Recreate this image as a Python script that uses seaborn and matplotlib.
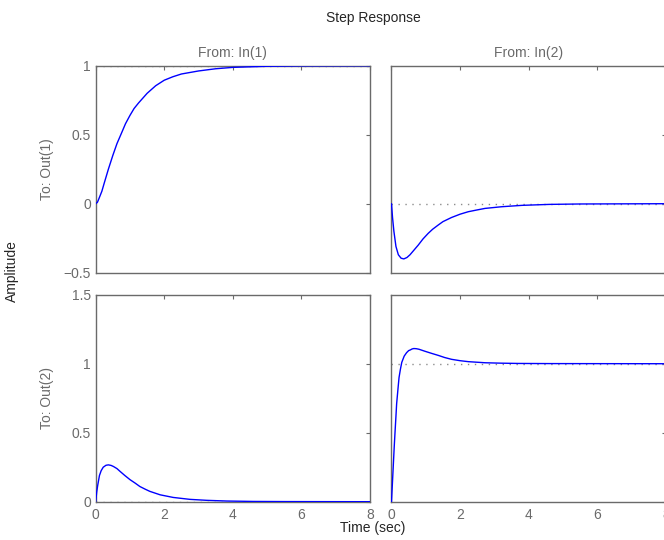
import matplotlib
matplotlib.use("Agg")
import matplotlib.pyplot as plt
import pandas as pd
import seaborn as sns


###############
# STEP VALUES #
###############
# samples, time in seconds
t_in1_out1 = [0, 0.05, 0.1, 0.18, 0.25, 0.37, 0.5, 0.62, 0.75, 0.87, 1.0, 1.12, 1.25, 1.5, 1.75, 2.0, 2.25,
              2.5, 3.0, 3.5, 4.0, 5.0, 6.0, 8]
y_in1_out1 = [0, 0.01, 0.04, 0.09, 0.15, 0.25, 0.35, 0.435, 0.51, 0.58, 0.64, 0.69, 0.73, 0.80, 0.855, 0.895,
              0.92, 0.94, 0.962, 0.978, 0.988, 0.996, 0.999, 1.0]

t_in2_out1 = [0, 0.03, 0.07, 0.13, 0.2, 0.28, 0.36, 0.45, 0.54, 0.66, 0.78, 0.92, 1.07, 1.2, 1.36, 1.5, 1.75,
              2.0, 2.24, 2.5, 2.73, 3.21, 3.8, 4.6, 5.5, 8]
y_in2_out1 = [0, -0.10, -0.20, -0.31, -0.37, -0.395, -0.40, -0.39, -0.37, -0.335, -0.30, -0.255, -0.215, -0.185,
              -0.155, -0.13, -0.10, -0.076, -0.058, -0.045, -0.034, -0.022, -0.012, -0.005, -0.002, 0]

t_in1_out2 = [0, 0.03, 0.06, 0.11, 0.16, 0.22, 0.30, 0.37, 0.45, 0.52, 0.62, 0.71, 0.85, 1.0, 1.15, 1.29, 1.45,
              1.58, 1.88, 2.26, 2.75, 3.24, 3.82, 4.6, 5.5, 8]
y_in1_out2 = [0, 0.07, 0.12, 0.19, 0.225, 0.25, 0.264, 0.267, 0.263, 0.255, 0.24, 0.22, 0.19, 0.16, 0.135, 0.11,
              0.09, 0.075, 0.05, 0.031, 0.017, 0.01, 0.005, 0.002, 0.001, 0]

t_in2_out2 = [0, 0.03, 0.05, 0.08, 0.10, 0.13, 0.15, 0.19, 0.22, 0.26, 0.30, 0.37, 0.44, 0.50, 0.55, 0.60, 0.65,
              0.72, 0.80, 0.98, 1.17, 1.37, 1.55, 1.75, 2.0, 2.24, 2.73, 3.2, 3.7, 4.6, 8]
y_in2_out2 = [0, 0.15, 0.25, 0.40, 0.49, 0.62, 0.71, 0.82, 0.90, 0.96, 1.01, 1.055, 1.08, 1.095, 1.10, 1.107, 1.11,
              1.109, 1.105, 1.09, 1.075, 1.06, 1.045, 1.032, 1.022, 1.015, 1.007, 1.004, 1.002, 1.001, 1.0]

# final values (dotted lines)
steady_state = {(0, 0): 1, (0, 1): 0, (1, 0): 0, (1, 1): 1}

inputs = ["From: In(1)", "From: In(2)"]
outputs = ["To: Out(1)", "To: Out(2)"]
x_ticks = [0, 2, 4, 6, 8]
y_ticks_row = [[-0.5, 0, 0.5, 1], [0, 0.5, 1, 1.5]]
y_limits_row = [(-0.5, 1), (0, 1.5)]

GRAY = "#6a6a6a"
FONT = 10


def _frame(t, y):
    return pd.DataFrame({"time": t, "amplitude": y})


curves = {
    (0, 0): _frame(t_in1_out1, y_in1_out1),
    (0, 1): _frame(t_in2_out1, y_in2_out1),
    (1, 0): _frame(t_in1_out2, y_in1_out2),
    (1, 1): _frame(t_in2_out2, y_in2_out2),
}

sns.set_style("white")
plt.rcParams["font.family"] = ["Liberation Sans", "DejaVu Sans"]

fig = plt.figure(figsize=(6.64, 5.4), dpi=100)
col_x = [0.1441, 0.5896]
row_y = [0.4950, 0.0709]
width, height = 0.4131, 0.3833

for (row, col), data in curves.items():
    ax = fig.add_axes([col_x[col], row_y[row], width, height])
    ax.axhline(steady_state[(row, col)], color="#8c8c8c", lw=1.0, ls=(0, (1, 4)), zorder=1)
    sns.lineplot(data=data, x="time", y="amplitude", ax=ax, color="#0000ff", lw=1.0, zorder=3)

    ax.set_xlim(0, 8)
    ax.set_ylim(*y_limits_row[row])
    ax.set_xticks(x_ticks)
    ax.set_yticks(y_ticks_row[row])
    ax.set_xlabel("")
    ax.set_ylabel("")
    ax.set_yticklabels([f"{v:g}".replace("-", "\u2212") for v in y_ticks_row[row]])
    ax.tick_params(direction="in", top=True, right=True, length=3, width=0.8,
                   color=GRAY, labelcolor=GRAY, labelsize=FONT)
    ax.tick_params(axis="x", pad=4.5)
    ax.tick_params(axis="y", pad=3.5)
    for spine in ax.spines.values():
        spine.set_color(GRAY)
        spine.set_linewidth(1.0)
    if row == 0:
        ax.tick_params(labelbottom=False)
        ax.set_title(inputs[col], color=GRAY, fontsize=FONT, pad=6)
    if col == 1:
        ax.tick_params(labelleft=False)

for row, label in enumerate(outputs):
    fig.text(47 / 664, 1 - (169 if row == 0 else 398) / 540, label, rotation=90,
             ha="center", va="center", color=GRAY, fontsize=FONT)

fig.text(373 / 664, 1 - 18 / 540, "Step Response", ha="center", va="center", fontsize=FONT)
fig.text(373 / 664, 1 - 528 / 540, "Time (sec)", ha="center", va="center", fontsize=FONT)
fig.text(12 / 664, 1 - 271 / 540, "Amplitude", rotation=90, ha="center", va="center", fontsize=FONT)

fig.savefig("out.png", dpi=100)
